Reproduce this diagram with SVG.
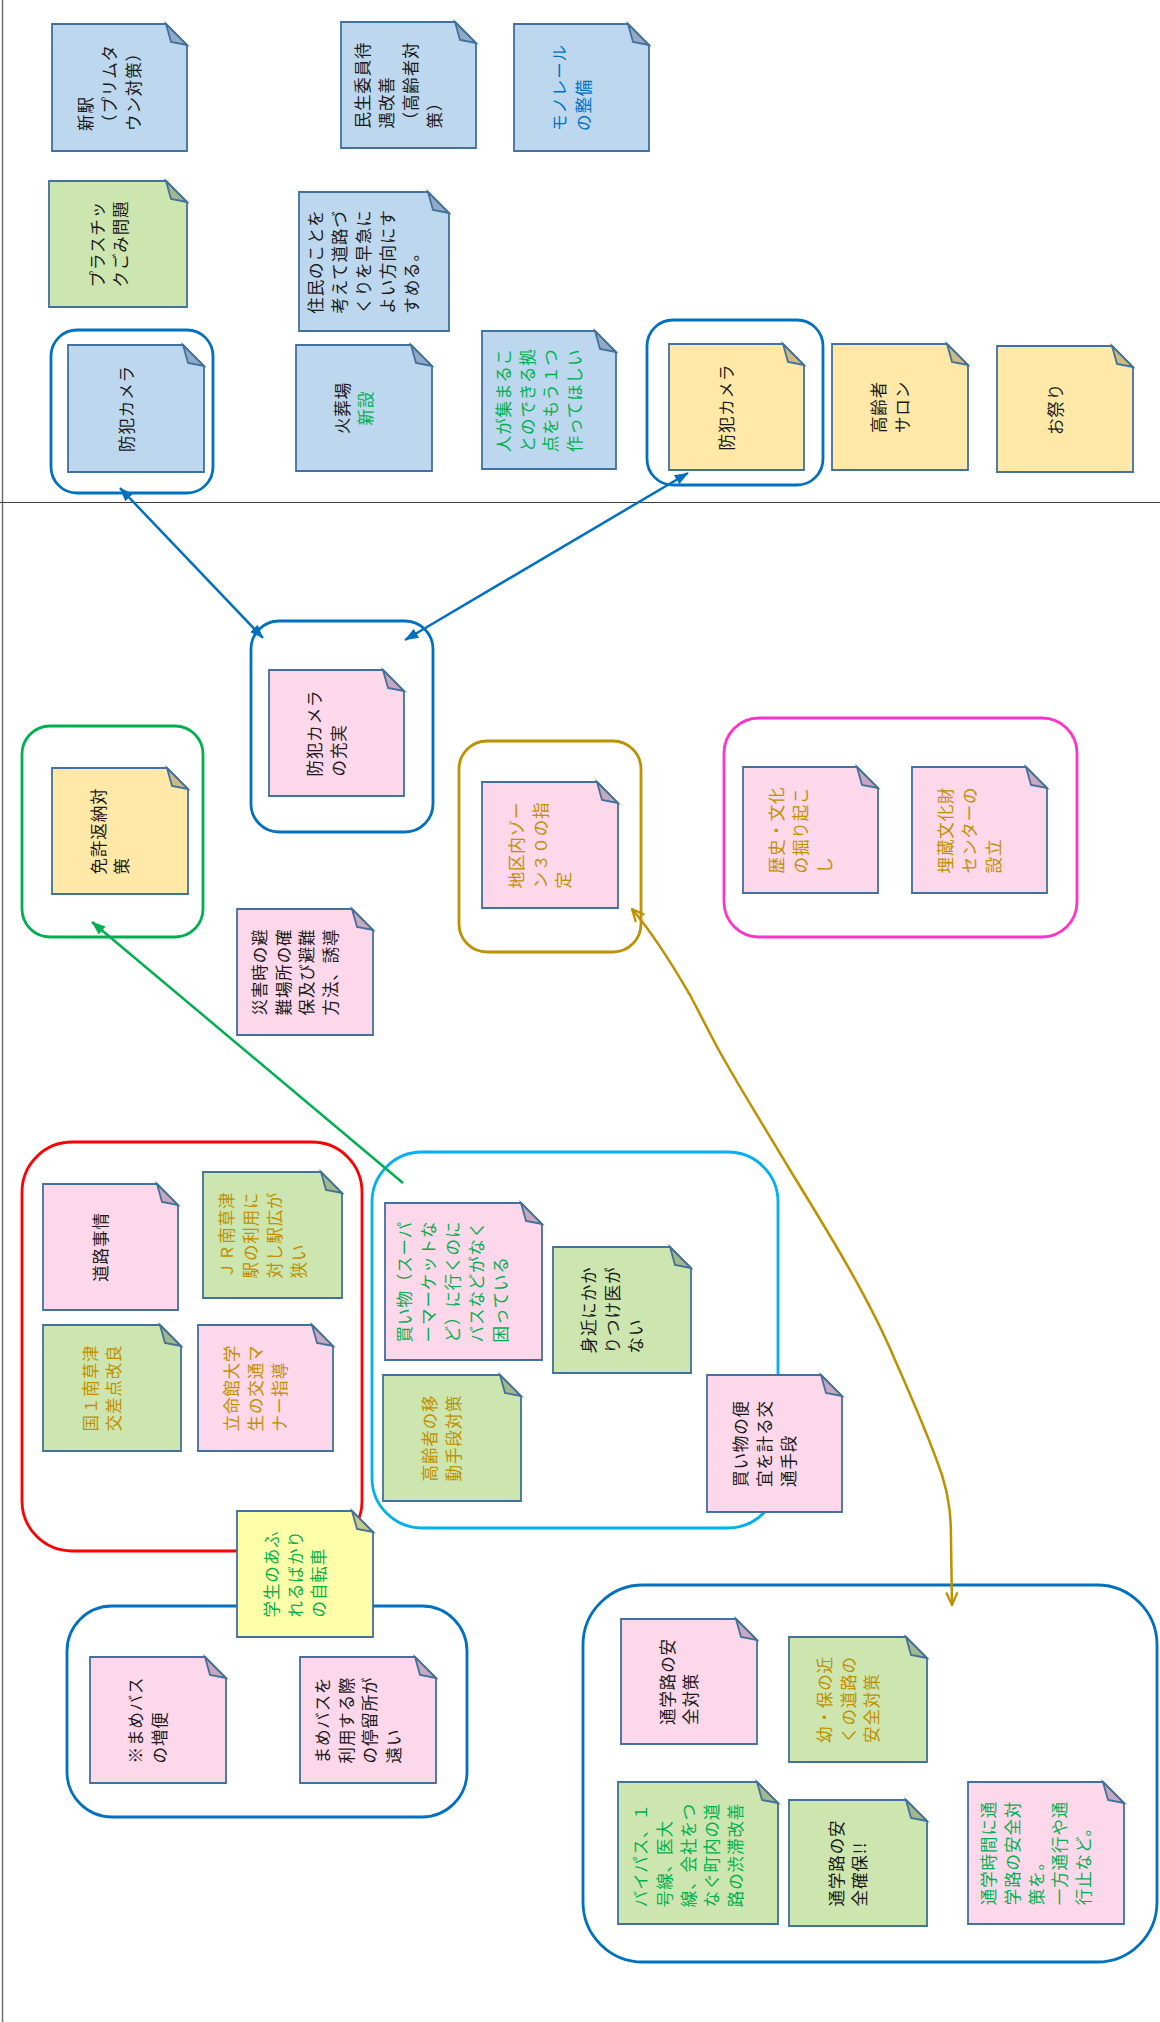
<svg xmlns="http://www.w3.org/2000/svg" width="1160" height="2022" viewBox="0 0 1160 2022">
<style>
.n{stroke:#41719C;stroke-width:1.8;stroke-linejoin:miter}
.b{fill:#BDD7EE}.y{fill:#FFE8A8}.p{fill:#FDD7EA}.g{fill:#CDE6AF}.ly{fill:#FFFFAA}
.fb{fill:#93AAC6}.fy{fill:#CDBA84}.fp{fill:#C9A8BF}.fg{fill:#A3B88C}.fly{fill:#CACA86}
.t text{font-family:"Noto Sans CJK JP","Noto Sans CJK SC",sans-serif;font-size:16.5px;letter-spacing:0.9px;dominant-baseline:central}
.k{fill:#1a1a1a}.tg{fill:#BF9000}.tn{fill:#00B050}.tb{fill:#0070C0}
.fr{fill:none;stroke-width:2.8}
.c{fill:none;stroke-width:2.5}
</style>
<defs>
<marker id="ab" viewBox="0 0 10 10" refX="9.5" refY="5" markerWidth="14" markerHeight="14" markerUnits="userSpaceOnUse" orient="auto-start-reverse"><path d="M0,1.2L10,5L0,8.8Z" fill="#0070C0"/></marker>
<marker id="ag" viewBox="0 0 10 10" refX="9.5" refY="5" markerWidth="14" markerHeight="14" markerUnits="userSpaceOnUse" orient="auto-start-reverse"><path d="M0,1.2L10,5L0,8.8Z" fill="#00B050"/></marker>
<marker id="ao" viewBox="0 0 12 12" refX="11" refY="6" markerWidth="15" markerHeight="15" markerUnits="userSpaceOnUse" orient="auto-start-reverse"><path d="M1,1.5L11,6L1,10.5" fill="none" stroke="#BF9000" stroke-width="1.8"/></marker>
</defs>
<rect width="1160" height="2022" fill="#fff"/>
<g id="dividers">
<line x1="2.5" y1="0" x2="2.5" y2="2022" stroke="#6f6f6f" stroke-width="1.5"/>
<line x1="0" y1="502.5" x2="1160" y2="502.5" stroke="#404040" stroke-width="1"/>
</g>
<g id="frames">
<rect id="f1" class="fr" x="51" y="330" width="162" height="163" rx="26" stroke="#0070C0"/>
<rect id="f2" class="fr" x="647" y="320" width="176" height="165" rx="26" stroke="#0070C0"/>
<rect id="f3" class="fr" x="251" y="621" width="182" height="211" rx="28" stroke="#0070C0"/>
<rect id="f4" class="fr" x="22" y="726" width="181" height="211" rx="28" stroke="#00B050"/>
<rect id="f5" class="fr" x="459" y="741" width="182" height="211" rx="28" stroke="#BF9000"/>
<rect id="f6" class="fr" x="724" y="718" width="353" height="219" rx="35" stroke="#FF33CC"/>
<rect id="f7" class="fr" x="22" y="1142" width="340" height="409" rx="50" stroke="#FF0000"/>
<rect id="f8" class="fr" x="372" y="1152" width="406" height="376" rx="50" stroke="#00B0F0"/>
<rect id="f9" class="fr" x="67" y="1606" width="400" height="211" rx="45" stroke="#0070C0"/>
<rect id="f10" class="fr" x="583" y="1585" width="574" height="377" rx="60" stroke="#0070C0"/>
</g>
<g id="n1"><path class="n b" d="M52,24H166L187,45V151H52Z"/><path class="n fb" d="M166,24L187,45L171,42Z"/><g class="t k" transform="translate(109,87.5) rotate(-90)"><text x="-43.5" y="-23.8">新駅</text><text x="-43.5" y="0">（プリムタ</text><text x="-43.5" y="23.8">ウン対策）</text></g></g>
<g id="n2"><path class="n b" d="M341,22H455L476,43V148H341Z"/><path class="n fb" d="M455,22L476,43L460,40Z"/><g class="t k" transform="translate(398,85) rotate(-90)"><text x="-43.5" y="-35.7">民生委員待</text><text x="-43.5" y="-11.9">遇改善</text><text x="-43.5" y="11.9">（高齢者対</text><text x="-43.5" y="35.7">策）</text></g></g>
<g id="n3"><path class="n b" d="M514,24H628L649,45V151H514Z"/><path class="n fb" d="M628,24L649,45L633,42Z"/><g class="t tb" transform="translate(571,87.5) rotate(-90)"><text x="-43.5" y="-11.9">モノレール</text><text x="-43.5" y="11.9">の整備</text></g></g>
<g id="n4"><path class="n g" d="M49,181H166L187,202V307H49Z"/><path class="n fg" d="M166,181L187,202L171,199Z"/><g class="t k" transform="translate(108.5,244) rotate(-90)"><text x="-43.5" y="-11.9">プラスチッ</text><text x="-43.5" y="11.9">クごみ問題</text></g></g>
<g id="n5"><path class="n b" d="M299,192H428L449,213V331H299Z"/><path class="n fb" d="M428,192L449,213L433,210Z"/><g class="t k" transform="translate(363,261.5) rotate(-90)"><text x="-52.2" y="-47.6">住民のことを</text><text x="-52.2" y="-23.8">考えて道路づ</text><text x="-52.2" y="0">くりを早急に</text><text x="-52.2" y="23.8">よい方向にす</text><text x="-52.2" y="47.6">すめる。</text></g></g>
<g id="n6"><path class="n b" d="M68,345H183L204,366V472H68Z"/><path class="n fb" d="M183,345L204,366L188,363Z"/><g class="t k" transform="translate(126,408.5) rotate(-90)"><text x="-43.5" y="0">防犯カメラ</text></g></g>
<g id="n7"><path class="n b" d="M296,345H411L432,366V471H296Z"/><path class="n fb" d="M411,345L432,366L416,363Z"/><g class="t" transform="translate(353.5,408) rotate(-90)"><text class="k" x="0" y="-11.9" text-anchor="middle">火葬場</text><text class="tn" x="0" y="11.9" text-anchor="middle">新設</text></g></g>
<g id="n8"><path class="n b" d="M482,331H595L616,352V469H482Z"/><path class="n fb" d="M595,331L616,352L600,349Z"/><g class="t tn" transform="translate(538.5,400) rotate(-90)"><text x="-52.2" y="-35.7">人が集まるこ</text><text x="-52.2" y="-11.9">とのできる拠</text><text x="-52.2" y="11.9">点をもう１つ</text><text x="-52.2" y="35.7">作ってほしい</text></g></g>
<g id="n9"><path class="n y" d="M669,344H783L804,365V470H669Z"/><path class="n fy" d="M783,344L804,365L788,362Z"/><g class="t k" transform="translate(726,407) rotate(-90)"><text x="-43.5" y="0">防犯カメラ</text></g></g>
<g id="n10"><path class="n y" d="M832,344H947L968,365V470H832Z"/><path class="n fy" d="M947,344L968,365L952,362Z"/><g class="t k" transform="translate(890,407) rotate(-90)"><text x="-26.1" y="-11.9">高齢者</text><text x="-26.1" y="11.9">サロン</text></g></g>
<g id="n11"><path class="n y" d="M997,346H1112L1133,367V472H997Z"/><path class="n fy" d="M1112,346L1133,367L1117,364Z"/><g class="t k" transform="translate(1054.5,409) rotate(-90)"><text x="-26.1" y="0">お祭り</text></g></g>
<g id="n12"><path class="n p" d="M269,670H383L404,691V796H269Z"/><path class="n fp" d="M383,670L404,691L388,688Z"/><g class="t k" transform="translate(326,733) rotate(-90)"><text x="-43.5" y="-11.9">防犯カメラ</text><text x="-43.5" y="11.9">の充実</text></g></g>
<g id="n13"><path class="n y" d="M52,768H167L188,789V894H52Z"/><path class="n fy" d="M167,768L188,789L172,786Z"/><g class="t k" transform="translate(109.5,831) rotate(-90)"><text x="-43.5" y="-11.9">免許返納対</text><text x="-43.5" y="11.9">策</text></g></g>
<g id="n14"><path class="n p" d="M237,909H352L373,930V1035H237Z"/><path class="n fp" d="M352,909L373,930L357,927Z"/><g class="t k" transform="translate(294.5,972) rotate(-90)"><text x="-43.5" y="-35.7">災害時の避</text><text x="-43.5" y="-11.9">難場所の確</text><text x="-43.5" y="11.9">保及び避難</text><text x="-43.5" y="35.7">方法、誘導</text></g></g>
<g id="n15"><path class="n p" d="M482,782H597L618,803V908H482Z"/><path class="n fp" d="M597,782L618,803L602,800Z"/><g class="t tg" transform="translate(539.5,845) rotate(-90)"><text x="-43.5" y="-23.8">地区内ゾー</text><text x="-43.5" y="0">ン３０の指</text><text x="-43.5" y="23.8">定</text></g></g>
<g id="n16"><path class="n p" d="M743,767H857L878,788V893H743Z"/><path class="n fp" d="M857,767L878,788L862,785Z"/><g class="t tg" transform="translate(800,830) rotate(-90)"><text x="-43.5" y="-23.8">歴史・文化</text><text x="-43.5" y="0">の掘り起こ</text><text x="-43.5" y="23.8">し</text></g></g>
<g id="n17"><path class="n p" d="M912,767H1026L1047,788V893H912Z"/><path class="n fp" d="M1026,767L1047,788L1031,785Z"/><g class="t tg" transform="translate(969,830) rotate(-90)"><text x="-43.5" y="-23.8">埋蔵文化財</text><text x="-43.5" y="0">センターの</text><text x="-43.5" y="23.8">設立</text></g></g>
<g id="n18"><path class="n p" d="M43,1184H157L178,1205V1310H43Z"/><path class="n fp" d="M157,1184L178,1205L162,1202Z"/><g class="t k" transform="translate(100,1247) rotate(-90)"><text x="-34.8" y="0">道路事情</text></g></g>
<g id="n19"><path class="n g" d="M203,1172H321L342,1193V1298H203Z"/><path class="n fg" d="M321,1172L342,1193L326,1190Z"/><g class="t tg" transform="translate(262,1235) rotate(-90)"><text x="-43.5" y="-35.7">ＪＲ南草津</text><text x="-43.5" y="-11.9">駅の利用に</text><text x="-43.5" y="11.9">対し駅広が</text><text x="-43.5" y="35.7">狭い</text></g></g>
<g id="n20"><path class="n g" d="M43,1325H160L181,1346V1451H43Z"/><path class="n fg" d="M160,1325L181,1346L165,1343Z"/><g class="t tg" transform="translate(101.5,1388) rotate(-90)"><text x="-43.5" y="-11.9">国１南草津</text><text x="-43.5" y="11.9">交差点改良</text></g></g>
<g id="n21"><path class="n p" d="M198,1325H312L333,1346V1451H198Z"/><path class="n fp" d="M312,1325L333,1346L317,1343Z"/><g class="t tg" transform="translate(255,1388) rotate(-90)"><text x="-43.5" y="-23.8">立命館大学</text><text x="-43.5" y="0">生の交通マ</text><text x="-43.5" y="23.8">ナー指導</text></g></g>
<g id="n23"><path class="n p" d="M385,1203H521L542,1224V1360H385Z"/><path class="n fp" d="M521,1203L542,1224L526,1221Z"/><g class="t tn" transform="translate(452,1281.5) rotate(-90)"><text x="-60.9" y="-47.6">買い物（スーパ</text><text x="-60.9" y="-23.8">ーマーケットな</text><text x="-60.9" y="0">ど）に行くのに</text><text x="-60.9" y="23.8">バスなどがなく</text><text x="-60.9" y="47.6">困っている</text></g></g>
<g id="n24"><path class="n g" d="M553,1247H670L691,1268V1373H553Z"/><path class="n fg" d="M670,1247L691,1268L675,1265Z"/><g class="t k" transform="translate(611.5,1310) rotate(-90)"><text x="-43.5" y="-23.8">身近にかか</text><text x="-43.5" y="0">りつけ医が</text><text x="-43.5" y="23.8">ない</text></g></g>
<g id="n25"><path class="n g" d="M383,1375H500L521,1396V1501H383Z"/><path class="n fg" d="M500,1375L521,1396L505,1393Z"/><g class="t tg" transform="translate(441,1438) rotate(-90)"><text x="-43.5" y="-11.9">高齢者の移</text><text x="-43.5" y="11.9">動手段対策</text></g></g>
<g id="n26"><path class="n p" d="M707,1375H821L842,1396V1512H707Z"/><path class="n fp" d="M821,1375L842,1396L826,1393Z"/><g class="t k" transform="translate(764,1443.5) rotate(-90)"><text x="-43.5" y="-23.8">買い物の便</text><text x="-43.5" y="0">宜を計る交</text><text x="-43.5" y="23.8">通手段</text></g></g>
<g id="n22"><path class="n ly" d="M237,1511H352L373,1532V1637H237Z"/><path class="n fly" d="M352,1511L373,1532L357,1529Z"/><g class="t tn" transform="translate(294.5,1574) rotate(-90)"><text x="-43.5" y="-23.8">学生のあふ</text><text x="-43.5" y="0">れるばかり</text><text x="-43.5" y="23.8">の自転車</text></g></g>
<g id="n27"><path class="n p" d="M90,1657H205L226,1678V1783H90Z"/><path class="n fp" d="M205,1657L226,1678L210,1675Z"/><g class="t k" transform="translate(147,1720) rotate(-90)"><text x="-43.5" y="-11.9">※まめバス</text><text x="-43.5" y="11.9">の増便</text></g></g>
<g id="n28"><path class="n p" d="M300,1657H415L436,1678V1783H300Z"/><path class="n fp" d="M415,1657L436,1678L420,1675Z"/><g class="t k" transform="translate(357.5,1720) rotate(-90)"><text x="-43.5" y="-35.7">まめバスを</text><text x="-43.5" y="-11.9">利用する際</text><text x="-43.5" y="11.9">の停留所が</text><text x="-43.5" y="35.7">遠い</text></g></g>
<g id="n29"><path class="n p" d="M621,1619H736L757,1640V1744H621Z"/><path class="n fp" d="M736,1619L757,1640L741,1637Z"/><g class="t k" transform="translate(678.5,1681.5) rotate(-90)"><text x="-43.5" y="-11.9">通学路の安</text><text x="-43.5" y="11.9">全対策</text></g></g>
<g id="n30"><path class="n g" d="M789,1637H906L927,1658V1762H789Z"/><path class="n fg" d="M906,1637L927,1658L911,1655Z"/><g class="t tg" transform="translate(847.5,1699.5) rotate(-90)"><text x="-43.5" y="-23.8">幼・保の近</text><text x="-43.5" y="0">くの道路の</text><text x="-43.5" y="23.8">安全対策</text></g></g>
<g id="n31"><path class="n g" d="M618,1782H757L778,1803V1924H618Z"/><path class="n fg" d="M757,1782L778,1803L762,1800Z"/><g class="t tn" transform="translate(687.5,1855) rotate(-90)"><text x="-52.2" y="-47.6">バイパス、１</text><text x="-52.2" y="-23.8">号線、医大</text><text x="-52.2" y="0">線、会社をつ</text><text x="-52.2" y="23.8">なぐ町内の道</text><text x="-52.2" y="47.6">路の渋滞改善</text></g></g>
<g id="n32"><path class="n g" d="M789,1800H906L927,1821V1926H789Z"/><path class="n fg" d="M906,1800L927,1821L911,1818Z"/><g class="t k" transform="translate(847.5,1863) rotate(-90)"><text x="-43.5" y="-11.9">通学路の安</text><text x="-43.5" y="11.9">全確保!!</text></g></g>
<g id="n33"><path class="n p" d="M968,1782H1103L1124,1803V1924H968Z"/><path class="n fp" d="M1103,1782L1124,1803L1108,1800Z"/><g class="t tn" transform="translate(1035.5,1853) rotate(-90)"><text x="-52.2" y="-47.6">通学時間に通</text><text x="-52.2" y="-23.8">学路の安全対</text><text x="-52.2" y="0">策を。</text><text x="-52.2" y="23.8">一方通行や通</text><text x="-52.2" y="47.6">行止など。</text></g></g>
<g id="connectors">
<line class="c" x1="120" y1="488" x2="263" y2="638" stroke="#0070C0" marker-start="url(#ab)" marker-end="url(#ab)"/>
<line class="c" x1="688" y1="473" x2="405" y2="640" stroke="#0070C0" marker-start="url(#ab)" marker-end="url(#ab)"/>
<line class="c" x1="403" y1="1183" x2="92" y2="922" stroke="#00B050" marker-end="url(#ag)"/>
<path class="c" d="M632,909C650,930 665,952 690,995L716,1045C735,1080 760,1120 790,1170C830,1235 870,1300 895,1360C915,1405 930,1440 942,1475C950,1500 951,1520 951,1540L952,1605" stroke="#BF9000" marker-start="url(#ao)" marker-end="url(#ao)"/>
</g>
</svg>
